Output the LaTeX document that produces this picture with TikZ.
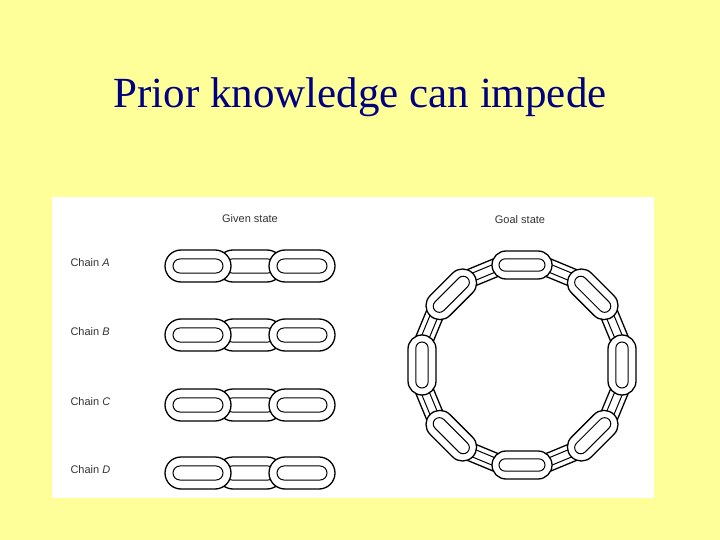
\documentclass[tikz,border=0pt]{standalone}
\usepackage{fontspec}
\setmainfont{Liberation Serif}
\newfontfamily\lsans{Liberation Sans}
\definecolor{bg}{HTML}{FFFF99}
\definecolor{ttl}{HTML}{000080}
\tikzset{lnk/.style={draw=black,line width=1.3pt,fill=white},
 lbl/.style={font=\lsans\fontsize{11}{13}\selectfont,text=black!80}}
\newcommand{\chlink}[5]{%
 \begin{scope}[shift={(#1,#2)},rotate=#3]
  \filldraw[lnk,rounded corners=#5*0.5pt] (-#4*0.5,-#5*0.5) rectangle (#4*0.5,#5*0.5);
  \draw[line width=1pt,rounded corners=#5*0.22pt] (-#4*0.5+#5*0.25,-#5*0.22) rectangle (#4*0.5-#5*0.25,#5*0.22);
 \end{scope}}
\begin{document}
\begin{tikzpicture}[x=1pt,y=-1pt]
\fill[bg] (0,0) rectangle (720,540);
\useasboundingbox (0,0) rectangle (720,540);
\node[text=ttl,font=\fontsize{43}{48}\selectfont] (title) at (360,97) {Prior knowledge can impede};
\fill[white] (52,197) rectangle (654,498);
\node[lbl] (given) at (250,219) {Given state};
\node[lbl] (goal) at (520,220) {Goal state};
\foreach \y/\n in {263/A,332/B,402/C,470/D}{
 \node[lbl,anchor=west] (c\n) at (67,\y) {Chain \textit{\n}};
 \pgfmathsetmacro{\yy}{\y+3}
 \chlink{250}{\yy}{0}{66}{32}
 \chlink{198}{\yy}{0}{66}{32}
 \chlink{302}{\yy}{0}{66}{32}
}
\foreach \i in {1,3,...,15}{
 \pgfmathsetmacro{\a}{\i*22.5}
 \pgfmathsetmacro{\cx}{522+100*cos(\a)}
 \pgfmathsetmacro{\cy}{365+100*sin(\a)}
 \pgfmathsetmacro{\rot}{90-\a}
 \chlink{\cx}{\cy}{\rot}{60}{18}
}
\foreach \i in {0,2,...,14}{
 \pgfmathsetmacro{\a}{\i*22.5}
 \pgfmathsetmacro{\cx}{522+100*cos(\a)}
 \pgfmathsetmacro{\cy}{365+100*sin(\a)}
 \pgfmathsetmacro{\rot}{90-\a}
 \chlink{\cx}{\cy}{\rot}{60}{28}
}
\end{tikzpicture}
\end{document}
